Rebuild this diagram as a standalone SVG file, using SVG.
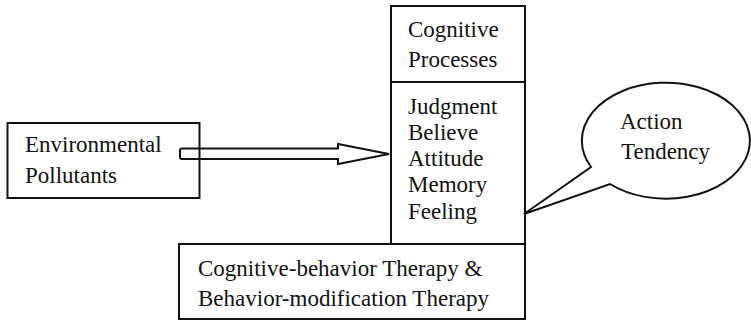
<svg xmlns="http://www.w3.org/2000/svg" width="751" height="321" viewBox="0 0 751 321">
  <style>
    .box { fill: #ffffff; stroke: #111111; stroke-width: 2; }
    .lbl { font-family: "Liberation Serif", "Times New Roman", serif; font-size: 23px; fill: #111111; }
    .conn { fill: none; stroke: #111111; stroke-width: 2; stroke-linejoin: miter; }
  </style>
  <rect width="751" height="321" fill="#ffffff"/>

  <!-- source node -->
  <g id="environmental-pollutants">
    <rect class="box" x="7.5" y="123" width="192" height="75"/>
    <text class="lbl" x="25" y="152">Environmental</text>
    <text class="lbl" x="25" y="183">Pollutants</text>
  </g>

  <!-- central column: header + list -->
  <g id="cognitive-processes">
    <rect class="box" x="391" y="6" width="134" height="76"/>
    <text class="lbl" x="408" y="37">Cognitive</text>
    <text class="lbl" x="408" y="67">Processes</text>
  </g>
  <g id="cognitive-contents">
    <rect class="box" x="391" y="82" width="134" height="162"/>
    <text class="lbl" x="408" y="114">Judgment</text>
    <text class="lbl" x="408" y="140">Believe</text>
    <text class="lbl" x="408" y="166">Attitude</text>
    <text class="lbl" x="408" y="192">Memory</text>
    <text class="lbl" x="408" y="219">Feeling</text>
  </g>

  <!-- therapy base -->
  <g id="therapy">
    <rect class="box" x="179" y="244" width="346" height="75"/>
    <text class="lbl" x="198" y="276">Cognitive-behavior Therapy &amp;</text>
    <text class="lbl" x="198" y="306">Behavior-modification Therapy</text>
  </g>

  <!-- speech bubble pointing at the list -->
  <g id="action-tendency">
    <path class="box" d="M 591 167 A 84 58 0 1 1 610 184 L 524 214 Z"/>
    <text class="lbl" x="620" y="129">Action</text>
    <text class="lbl" x="621" y="159">Tendency</text>
  </g>

  <!-- connectors -->
  <g id="connectors">
    <path class="conn" d="M 182 148.5 L 338 148.5 L 338 144 L 389 154 L 338 164 L 338 159 L 182 159 Q 180 159 180 157 L 180 150.5 Q 180 148.5 182 148.5 Z"/>
  </g>
</svg>
